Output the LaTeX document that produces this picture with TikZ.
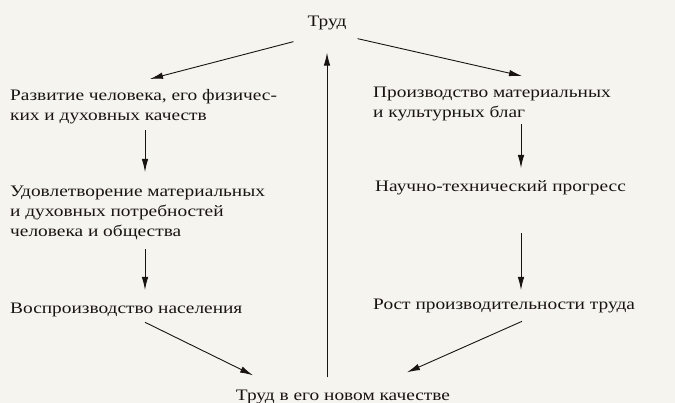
\documentclass[tikz,border=0pt]{standalone}
\usepackage{fontspec}
\setmainfont{Liberation Serif}[FakeStretch=1.21]
\usetikzlibrary{arrows.meta,calc}
\definecolor{paper}{RGB}{246,244,239}
\definecolor{ink}{RGB}{25,20,18}
\def\sheet{(0,0) rectangle (675,403)}

\begin{document}
\begin{tikzpicture}[x=1pt,y=-1pt,
  every node/.style={inner sep=0pt,text=ink,font=\fontsize{16}{20}\selectfont},
  txt/.style={anchor=north west,align=left},
  arr/.style={draw=ink,line width=0.9pt,-{Latex[length=13pt,width=6.5pt]}}]
\fill[paper]\sheet;
\useasboundingbox \sheet;
% top and bottom
\node[anchor=base] (trud) at (327,27) {Труд};
\node[anchor=base] (novyi) at (343,400) {Труд в его новом качестве};
% left column
\node[txt] (razv) at (10,89) {Развитие человека, его физичес-\\ких и духовных качеств};
\node[txt] (udovl) at (10,186) {Удовлетворение материальных\\и духовных потребностей\\человека и общества};
\node[txt] (vospr) at (10,303) {Воспроизводство населения};
% right column
\node[txt] (proizv) at (373,87) {Производство материальных\\и культурных благ};
\node[txt] (nauka) at (375,180) {Научно-технический прогресс};
\node[txt] (rost) at (373,299) {Рост производительности труда};
% arrows
\draw[arr] ([shift={(-14,11)}]trud.south west) -- ([shift={(140,-10)}]razv.north west);
\draw[arr] ([shift={(11,8)}]trud.south east) -- ([shift={(149,-11)}]proizv.north west);
\draw[arr] ([shift={(0,-12)}]novyi.north -| trud.south) -- ([shift={(0,22)}]trud.south);
\draw[arr] ([shift={(135,6)}]razv.south west) -- ([shift={(135,-14)}]udovl.north west);
\draw[arr] ([shift={(135,9)}]udovl.south west) -- ([shift={(135,-13)}]vospr.north west);
\draw[arr] ([shift={(148,3)}]proizv.south west) -- ([shift={(146,-12)}]nauka.north west);
\draw[arr] ([shift={(146,38)}]nauka.south west) -- ([shift={(148,-9)}]rost.north west);
\draw[arr] ([shift={(135,5)}]vospr.south west) -- ([shift={(-90,-14)}]novyi.north);
\draw[arr] ([shift={(149,8)}]rost.south west) -- ([shift={(64,-17)}]novyi.north);
\end{tikzpicture}
\end{document}
